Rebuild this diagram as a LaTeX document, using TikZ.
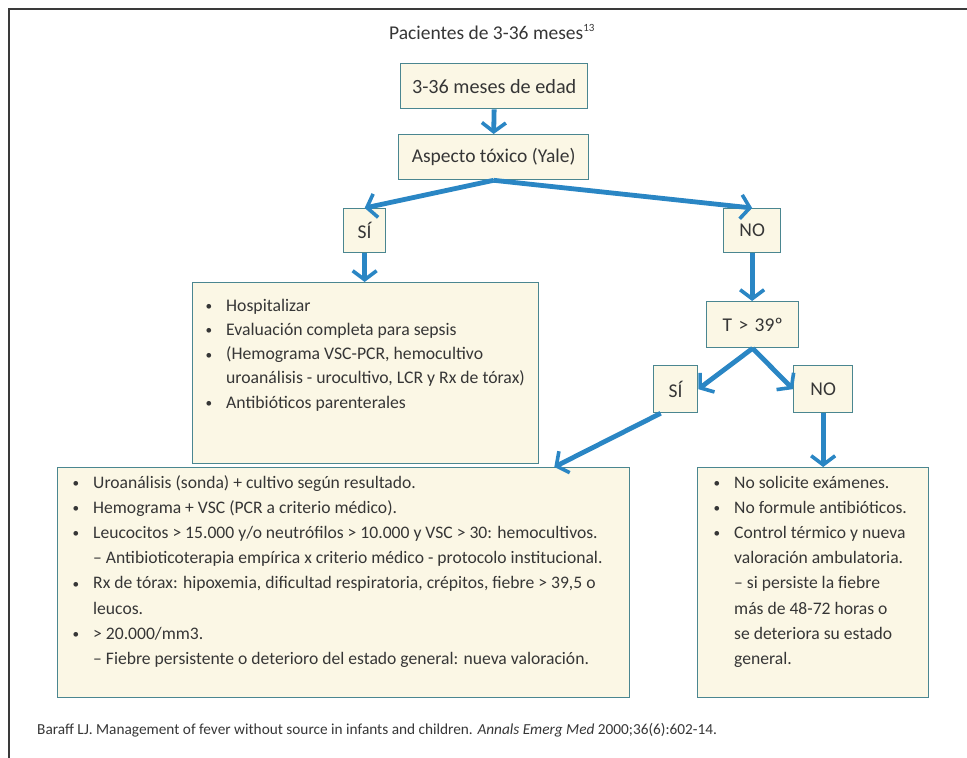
\documentclass[tikz,border=0pt]{standalone}
\usepackage{fontspec}
\setmainfont{Carlito}
\usetikzlibrary{arrows.meta,calc}
\definecolor{flowblue}{HTML}{2A86C4}
\definecolor{panelline}{HTML}{4A8690}
\definecolor{panelfill}{HTML}{FBF7E5}
\definecolor{ink}{HTML}{363636}
\definecolor{framegray}{HTML}{3A3A3A}

% hanging bullet for list lines
\newcommand\bul{\leavevmode\llap{\raisebox{0.5pt}{\scalebox{0.75}{\textbullet}}\hspace{14pt}}}

\begin{document}
\begin{tikzpicture}[x=1pt,y=-1pt,
  panel/.style={draw=panelline, line width=1.3pt, fill=panelfill, inner sep=0pt, anchor=north west},
  lbl/.style={text=ink, font=\fontsize{19.5}{22}\selectfont},
  body/.style={text=ink, inner sep=0pt, anchor=base west},
  flow/.style={draw=flowblue, line width=4.8pt,
    -{Straight Barb[length=9pt,width=24pt,line width=3.6pt]}},
]
\useasboundingbox (0,0) rectangle (967,758);

% outer frame (top and left rules)
\draw[framegray, line width=2pt] (9,758) -- (9,9) -- (967,9);

% title
\node[text=ink, font=\fontsize{19.5}{22}\selectfont] (title) at (492,32)
  {Pacientes de 3-36 meses\textsuperscript{\fontsize{11}{12}\selectfont 13}};

% decision boxes
\node[panel, lbl, font=\fontsize{20.2}{23}\selectfont, minimum width=187pt, minimum height=45pt] (age) at (400,63) {3-36 meses de edad};
\node[panel, lbl, minimum width=190pt, minimum height=45pt] (tox)  at (398,134) {Aspecto tóxico (Yale)};
\node[panel, lbl, minimum width=42pt,  minimum height=44pt] (si1)  at (343,208) {SÍ};
\node[panel, lbl, minimum width=57pt,  minimum height=44pt] (no1)  at (723,208) {NO};
\node[panel, lbl, minimum width=92pt,  minimum height=46pt] (temp) at (706,301) {T\,\,>\,\,39º};
\node[panel, lbl, minimum width=44pt,  minimum height=47pt] (si2)  at (653,365) {SÍ};
\node[panel, lbl, minimum width=59pt,  minimum height=47pt] (no2)  at (793,365) {NO};

% action panels
\node[panel, minimum width=346pt, minimum height=181pt] (hosp) at (192,282) {};
\node[panel, minimum width=572pt, minimum height=230pt] (b4)   at (57,467)  {};
\node[panel, minimum width=231pt, minimum height=230pt] (b5)   at (697,467) {};

\node[body, font=\fontsize{17.7}{24.3}\selectfont] (hosptext) at (226,311)
 {\parbox[t]{305pt}{\raggedright
  \bul Hospitalizar\\
  \bul Evaluación completa para sepsis\\
  \bul (Hemograma VSC-PCR, hemocultivo\\
  uroanálisis - urocultivo, LCR y Rx de tórax)\\
  \bul Antibióticos parenterales}};

\node[body, font=\fontsize{17.6}{25.2}\selectfont] (b4text) at (93,488)
 {\parbox[t]{530pt}{\raggedright
  \bul Uroanálisis (sonda) + cultivo según resultado.\\
  \bul Hemograma + VSC (PCR a criterio médico).\\
  \bul Leucocitos > 15.000 y/o neutrófilos > 10.000 y VSC > 30: hemocultivos.\\
  – Antibioticoterapia empírica x criterio médico - protocolo institucional.\\
  \bul Rx de tórax: hipoxemia, dificultad respiratoria, crépitos, fiebre > 39,5 o\\
  leucos.\\
  \bul > 20.000/mm3.\\
  – Fiebre persistente o deterioro del estado general: nueva valoración.}};

\node[body, font=\fontsize{17.6}{25.2}\selectfont] (b5text) at (734,488)
 {\parbox[t]{190pt}{\raggedright
  \bul No solicite exámenes.\\
  \bul No formule antibióticos.\\
  \bul Control térmico y nueva\\
  valoración ambulatoria.\\
  – si persiste la fiebre\\
  más de 48-72 horas o\\
  se deteriora su estado\\
  general.}};

% reference line
\node[body, font=\fontsize{15.3}{17}\selectfont] (ref) at (37,734)
 {Baraff LJ. Management of fever without source in infants and children. \textit{Annals Emerg Med} 2000;36(6):602-14.};

% connectors
\draw[flow] (age.south) -- (tox.north);
\draw[flow] (tox.south) -- (si1.north);
\draw[flow] (tox.south) -- (no1.north);
\draw[flow] (si1.south) -- (si1.south |- hosp.north);
\draw[flow] (no1.south) -- (no1.south |- temp.north);
\draw[flow] (temp.south) -- (si2.east);
\draw[flow] (temp.south) -- (no2.west);
\draw[flow] ($(si2.south)+(-15,0)$) -- ($(b4.north east)+(-76,0)$);
\draw[flow] (no2.south) -- (no2.south |- b5.north);
\end{tikzpicture}
\end{document}
